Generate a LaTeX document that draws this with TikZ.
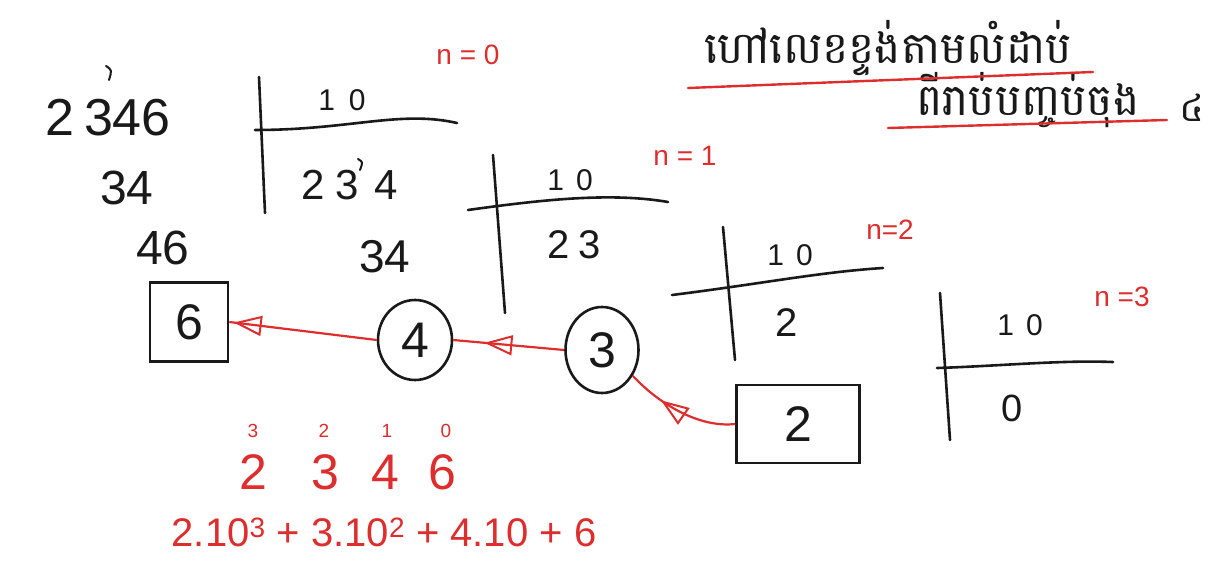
\documentclass[tikz,border=0pt]{standalone}
\usepackage{fontspec}
\setmainfont{Liberation Sans}
\newfontfamily\khmerfont[Script=Khmer]{Battambang}
\usetikzlibrary{arrows.meta,decorations.markings,shapes.geometric}
\definecolor{inkc}{RGB}{25,25,25}
\definecolor{penc}{RGB}{222,45,45}
\newcommand\myfs[1]{\fontsize{#1}{#1}\selectfont}
\begin{document}
\begin{tikzpicture}[x=1pt,y=-1pt,
  blk/.style={text=inkc,inner sep=0pt},
  rd/.style={text=penc,inner sep=0pt},
  rule/.style={draw=inkc,line width=2.6pt,line cap=round},
  redline/.style={draw=penc,line width=2.4pt,line cap=round},
  boxnode/.style={draw=inkc,line width=2.6pt,rectangle,inner sep=0pt,text=inkc,font=\myfs{50}},
  ringnode/.style={draw=inkc,line width=2.6pt,ellipse,inner sep=0pt,text=inkc,font=\myfs{50}},
  redarrow/.style={draw=penc,line width=2.2pt,postaction={decorate},
    decoration={markings,mark=at position #1 with {\arrow[line width=2pt]{Triangle[open,length=28pt,width=20pt]}}}},
]
\useasboundingbox[fill=white] (0,0) rectangle (1218,588);

% left column of numbers
\node[blk,font=\myfs{52}] (a0) at (108,118) {2\hspace{10pt}346};
\draw[draw=inkc,line width=2pt,line cap=round] (106,66) .. controls (112,70) .. (109,80);
\node[blk,font=\myfs{48}] (a1) at (127,188) {34};
\node[blk,font=\myfs{48}] (a2) at (163,248) {46};

% division 1 (n=0)
\draw[rule] (259,77) -- (265,213);
\draw[rule] (255,130) .. controls (350,130) and (400,110) .. (457,123);
\node[blk,font=\myfs{30}] (q0) at (342,100) {1\hspace{14pt}0};
\node[blk,font=\myfs{42}] (r0) at (350,185) {2\hspace{10pt}3\hspace{16pt}4};
\draw[draw=inkc,line width=2pt,line cap=round] (358,159) .. controls (363,162) .. (360,170);
\node[blk,font=\myfs{46}] (s0) at (385,257) {34};
\node[rd,font=\myfs{28}] (n0) at (468,55) {n = 0};

% division 2 (n=1)
\draw[rule] (493,155) -- (505,313);
\draw[rule] (468,210) .. controls (540,200) and (610,192) .. (668,202);
\node[blk,font=\myfs{30}] (q1) at (570,180) {1\hspace{12pt}0};
\node[blk,font=\myfs{40}] (r1) at (574,245) {2\hspace{8pt}3};
\node[rd,font=\myfs{28}] (n1) at (685,156) {n = 1};

% division 3 (n=2)
\draw[rule] (723,227) -- (735,360);
\draw[rule] (672,295) .. controls (760,284) and (820,272) .. (883,268);
\node[blk,font=\myfs{30}] (q2) at (790,255) {1\hspace{12pt}0};
\node[blk,font=\myfs{40}] (r2) at (787,323) {2};
\node[rd,font=\myfs{28}] (n2) at (890,230) {n=2};

% division 4 (n=3)
\draw[rule] (940,293) -- (950,440);
\draw[rule] (937,368) .. controls (1000,366) and (1060,360) .. (1113,362);
\node[blk,font=\myfs{30}] (q3) at (1020,325) {1\hspace{12pt}0};
\node[blk,font=\myfs{38}] (r3) at (1012,408) {0};
\node[rd,font=\myfs{28}] (n3) at (1122,297) {n =3};

% remainder chain
\node[boxnode,minimum width=78pt,minimum height=79pt] (b6) at (189,322) {6};
\node[ringnode,minimum width=74pt,minimum height=80pt] (c4) at (415,340) {4};
\node[ringnode,minimum width=73pt,minimum height=86pt] (c3) at (602,350) {3};
\node[boxnode,minimum width=123pt,minimum height=78pt] (b2) at (798,424) {2};

\draw[redarrow=0.97] (c4.west) -- (b6.east);
\draw[redarrow=0.72] (c3.west) -- (c4.east);
\draw[redarrow=0.68] (b2.west) .. controls (700,428) and (660,405) .. (c3.-40);

% bottom red expansion
\node[rd,font=\myfs{19}] (e3) at (253,431) {3};
\node[rd,font=\myfs{19}] (e2) at (324,431) {2};
\node[rd,font=\myfs{19}] (e1) at (387,431) {1};
\node[rd,font=\myfs{19}] (e0) at (446,431) {0};
\node[rd,font=\myfs{50}] (d2) at (253,472) {2};
\node[rd,font=\myfs{50}] (d3) at (325,472) {3};
\node[rd,font=\myfs{50}] (d4) at (385,472) {4};
\node[rd,font=\myfs{50}] (d6) at (442,472) {6};
\node[rd,font=\myfs{40}] (ex) at (384,532) {2.10\textsuperscript{3} + 3.10\textsuperscript{2} + 4.10 + 6};

% Khmer title
\node[blk,font=\khmerfont\myfs{44}] (t1) at (888,48) {ហៅលេខខ្ទង់តាមលំដាប់};
\node[blk,font=\khmerfont\myfs{44}] (t2) at (1028,100) {ពីរាប់បញ្ចប់ចុង};
\node[blk,font=\khmerfont\myfs{38}] (t3) at (1192,108) {៤};
\draw[redline] (688,88) -- (1093,72);
\draw[redline] (888,128) -- (1167,120);
\end{tikzpicture}
\end{document}
